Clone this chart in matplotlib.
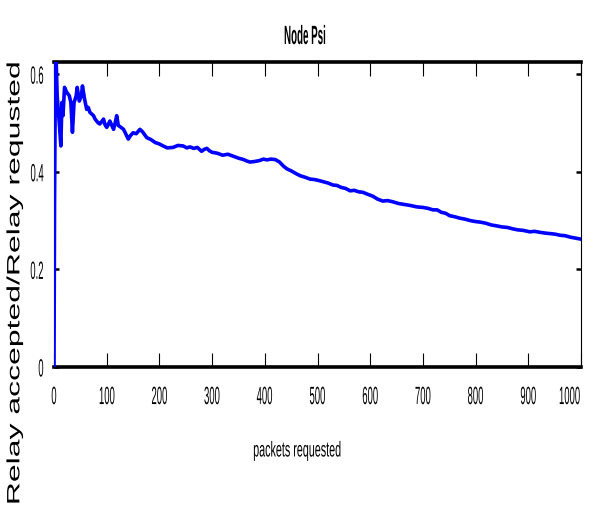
import matplotlib
matplotlib.use("Agg")
import matplotlib.pyplot as plt
from matplotlib import font_manager
from matplotlib.patheffects import AbstractPathEffect
from matplotlib.transforms import Affine2D, Bbox

# relay ratio per packet count
packets = [0, 1, 2, 3, 6, 10, 13, 15, 17, 20, 24, 29, 32, 35, 38, 42, 44, 48,
           52, 54, 58, 62, 65, 68, 72, 75, 78, 81, 84, 87, 90, 94, 97, 100,
           103, 106, 110, 113, 116, 119, 122, 126, 132, 136, 141, 145, 150,
           156, 163, 168, 172, 176, 184, 192, 200, 207, 215, 226, 235, 245,
           252, 258, 265, 272, 280, 285, 290, 295, 300, 310, 320, 330, 340,
           350, 360, 366, 372, 380, 390, 397, 404, 412, 420, 428, 435, 442,
           450, 458, 467, 476, 486, 495, 503, 510, 520, 529, 537, 545, 553,
           562, 570, 578, 586, 595, 605, 614, 624, 633, 643, 654, 665, 676,
           689, 700, 710, 719, 727, 735, 743, 751, 760, 770, 780, 790, 800,
           808, 818, 830, 841, 850, 860, 871, 880, 890, 903, 912, 922, 935,
           945, 952, 960, 970, 980, 990, 1000]
ratio = [0.0, 0.33, 0.5, 0.67, 0.556, 0.50, 0.453, 0.542, 0.515, 0.573, 0.563,
         0.556, 0.542, 0.481, 0.542, 0.555, 0.573, 0.545, 0.556, 0.576, 0.549,
         0.528, 0.532, 0.522, 0.518, 0.515, 0.508, 0.504, 0.500, 0.498, 0.502,
         0.508, 0.496, 0.491, 0.497, 0.504, 0.494, 0.487, 0.500, 0.515, 0.495,
         0.492, 0.487, 0.478, 0.467, 0.474, 0.48, 0.478, 0.487, 0.482, 0.476,
         0.47, 0.466, 0.46, 0.457, 0.453, 0.449, 0.45, 0.454, 0.453, 0.449,
         0.451, 0.448, 0.45, 0.442, 0.446, 0.448, 0.443, 0.44, 0.438, 0.434,
         0.436, 0.432, 0.428, 0.425, 0.422, 0.42, 0.421, 0.423, 0.426, 0.4245,
         0.426, 0.425, 0.42, 0.412, 0.406, 0.402, 0.397, 0.392, 0.389, 0.385,
         0.384, 0.382, 0.38, 0.377, 0.373, 0.372, 0.368, 0.366, 0.361, 0.362,
         0.359, 0.358, 0.354, 0.35, 0.344, 0.34, 0.341, 0.3385, 0.335, 0.333,
         0.331, 0.328, 0.327, 0.325, 0.322, 0.322, 0.317, 0.315, 0.31, 0.308,
         0.305, 0.303, 0.300, 0.298, 0.297, 0.295, 0.291, 0.289, 0.287, 0.286,
         0.283, 0.281, 0.280, 0.277, 0.278, 0.276, 0.274, 0.273, 0.272, 0.27,
         0.269, 0.266, 0.264, 0.262]

xticks = [0, 100, 200, 300, 400, 500, 600, 700, 800, 900, 1000]
yticks = [0, 0.2, 0.4, 0.6]
ytick_labels = ["0", "0.2", "0.4", "0.6"]


def _anchor_x(x0, x1, anchor):
    if anchor == "right":
        return x1
    if anchor == "left":
        return x0
    return (x0 + x1) / 2


class Squeeze(AbstractPathEffect):
    """Scale glyph outlines horizontally around an anchor (condensed look)."""

    def __init__(self, sx, anchor="center"):
        super().__init__()
        self.sx = sx
        self.anchor = anchor

    def draw_path(self, renderer, gc, tpath, affine, rgbFace=None):
        ext = tpath.get_extents(affine)
        x0 = _anchor_x(ext.x0, ext.x1, self.anchor)
        squeeze = Affine2D().translate(-x0, 0).scale(self.sx, 1).translate(x0, 0)
        renderer.draw_path(gc, tpath, affine + squeeze, rgbFace)


def condense(text, sx, anchor="center"):
    # squeeze the drawn glyphs and report the narrower box for layout
    text.set_path_effects([Squeeze(sx, anchor)])
    orig_extent = text.get_window_extent

    def extent(renderer=None, dpi=None):
        bb = orig_extent(renderer, dpi)
        c = _anchor_x(bb.x0, bb.x1, anchor)
        return Bbox([[c + (bb.x0 - c) * sx, bb.y0], [c + (bb.x1 - c) * sx, bb.y1]])

    text.get_window_extent = extent
    return text


plt.rcParams['font.family'] = ['Liberation Sans', 'DejaVu Sans']

# narrow face for the numbers if it is there
try:
    font_manager.findfont("Liberation Sans Narrow", fallback_to_default=False)
    num_family, num_sx = "Liberation Sans Narrow", 0.46
except ValueError:
    num_family, num_sx = "Liberation Sans", 0.38

fig = plt.figure(figsize=(5.9, 5.06), dpi=100)
ax = fig.add_axes([54 / 590, 1 - 368 / 506, 527 / 590, 305 / 506])

ax.plot(packets, ratio, color="#0000FF", linewidth=2.6, zorder=3)
ax.set_xlim(0, 1000)
ax.set_ylim(0, 0.625)

ax.set_xticks(xticks)
ax.set_yticks(yticks)
ax.set_yticklabels(ytick_labels)

ax.tick_params(axis="x", direction="in", top=True, length=10, width=0.8,
               labelsize=18, pad=13)
ax.tick_params(axis="y", direction="in", right=True, length=3.6, width=1.8,
               labelsize=18, pad=7)

xlabels = ax.get_xticklabels()
for lbl in xlabels[:-1]:
    lbl.set_family(num_family)
    condense(lbl, num_sx)
xlabels[-1].set_family(num_family)
xlabels[-1].set_ha("right")
condense(xlabels[-1], num_sx, "right")
for lbl in ax.get_yticklabels():
    lbl.set_family(num_family)
    condense(lbl, num_sx, "right")

for side in ("top", "bottom"):
    ax.spines[side].set_linewidth(2.6)
for side in ("left", "right"):
    ax.spines[side].set_linewidth(0.8)

title = fig.text(305 / 590, 1 - 38 / 506, "Node Psi", ha="center", va="center",
                 fontsize=19, fontweight="bold")
condense(title, 0.37)

ax.set_xlabel("packets requested", fontsize=15.5)
ax.xaxis.set_label_coords((297 - 54) / 527, (368 - 452) / 305)
ax.xaxis.label.set_va("center")
condense(ax.xaxis.label, 0.5)

ax.set_ylabel("Relay accepted/Relay requsted", fontsize=23)
ax.yaxis.set_label_coords((15 - 54) / 527, (368 - 284) / 305)
ax.yaxis.label.set_va("center")
condense(ax.yaxis.label, 0.56)

fig.savefig("out.png", dpi=100)
